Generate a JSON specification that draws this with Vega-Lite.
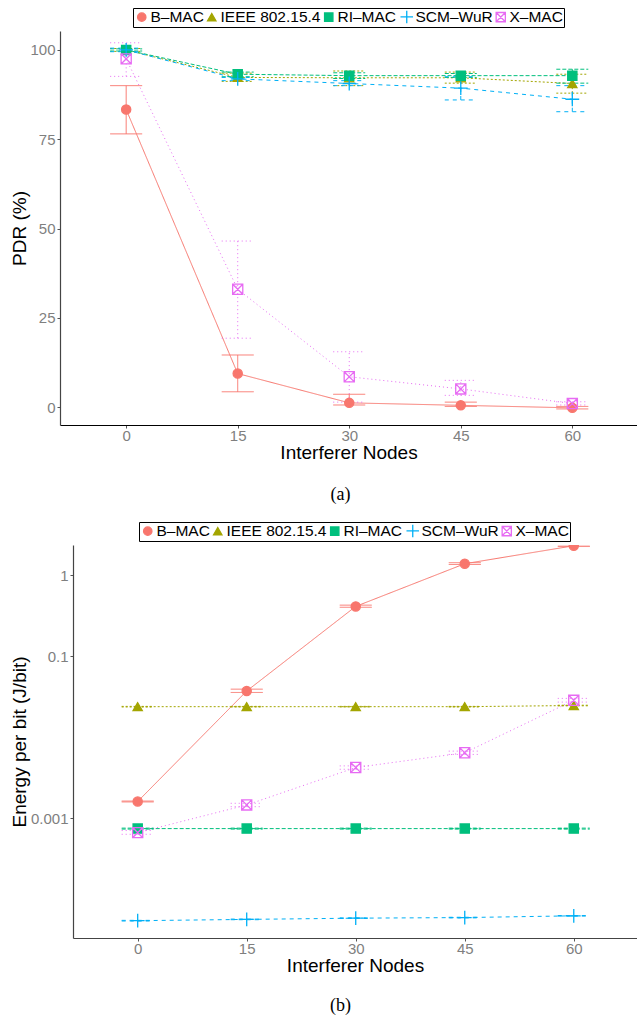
{
  "$schema": "https://vega.github.io/schema/vega-lite/v6.json",
  "padding": {"left": 10, "top": 7, "right": 0, "bottom": 0},
  "background": "white",
  "config": {
    "view": {"stroke": null},
    "font": "Liberation Sans",
    "axis": {"grid": false, "labelColor": "#7f7f7f", "labelFontSize": 15, "labelFont": "Liberation Sans", "titleFont": "Liberation Sans", "titleFontSize": 19, "titleFontWeight": "normal", "titleColor": "black", "tickColor": "#555", "tickSize": 3, "labelPadding": 2, "domainColor": "#444", "domainWidth": 1.2},
    "axisX": {"labelPadding": 0, "titlePadding": 0},
    "title": {"font": "Liberation Serif", "fontSize": 18, "fontWeight": "normal", "color": "black"}
  },
  "datasets": {
    "pdr": [
      {"mac": "B–MAC", "n": 0, "v": 83.3, "lo": 76.5, "hi": 90.0},
      {"mac": "B–MAC", "n": 15, "v": 9.4, "lo": 4.3, "hi": 14.6},
      {"mac": "B–MAC", "n": 30, "v": 1.2, "lo": 0.6, "hi": 3.6},
      {"mac": "B–MAC", "n": 45, "v": 0.5, "lo": 0.2, "hi": 1.4},
      {"mac": "B–MAC", "n": 60, "v": -0.2, "lo": -0.5, "hi": 0.2},
      {"mac": "IEEE 802.15.4", "n": 0, "v": 100, "lo": 99.6, "hi": 100.4},
      {"mac": "IEEE 802.15.4", "n": 15, "v": 92.3, "lo": 91.2, "hi": 93.5},
      {"mac": "IEEE 802.15.4", "n": 30, "v": 92.2, "lo": 90.0, "hi": 94.1},
      {"mac": "IEEE 802.15.4", "n": 45, "v": 92.2, "lo": 90.7, "hi": 93.8},
      {"mac": "IEEE 802.15.4", "n": 60, "v": 90.6, "lo": 87.9, "hi": 93.2},
      {"mac": "RI–MAC", "n": 0, "v": 100, "lo": 99.7, "hi": 100.3},
      {"mac": "RI–MAC", "n": 15, "v": 93.2, "lo": 92.5, "hi": 93.8},
      {"mac": "RI–MAC", "n": 30, "v": 92.8, "lo": 92.0, "hi": 93.6},
      {"mac": "RI–MAC", "n": 45, "v": 92.8, "lo": 92.3, "hi": 93.4},
      {"mac": "RI–MAC", "n": 60, "v": 92.8, "lo": 90.7, "hi": 94.6},
      {"mac": "SCM–WuR", "n": 0, "v": 100, "lo": 99.5, "hi": 100.5},
      {"mac": "SCM–WuR", "n": 15, "v": 91.9, "lo": 91.4, "hi": 92.3},
      {"mac": "SCM–WuR", "n": 30, "v": 90.6, "lo": 90.0, "hi": 91.4},
      {"mac": "SCM–WuR", "n": 45, "v": 89.3, "lo": 86.0, "hi": 92.5},
      {"mac": "SCM–WuR", "n": 60, "v": 86.2, "lo": 82.7, "hi": 90.0},
      {"mac": "X–MAC", "n": 0, "v": 97.5, "lo": 92.6, "hi": 102.0},
      {"mac": "X–MAC", "n": 15, "v": 33.0, "lo": 19.3, "hi": 46.5},
      {"mac": "X–MAC", "n": 30, "v": 8.5, "lo": 1.4, "hi": 15.5},
      {"mac": "X–MAC", "n": 45, "v": 5.1, "lo": 3.3, "hi": 7.5},
      {"mac": "X–MAC", "n": 60, "v": 1.0, "lo": 0.6, "hi": 1.5}
    ],
    "energy": [
      {"mac": "B–MAC", "n": 0, "v": 0.0016, "lo": 0.00158, "hi": 0.00162},
      {"mac": "B–MAC", "n": 15, "v": 0.037, "lo": 0.0355, "hi": 0.039},
      {"mac": "B–MAC", "n": 30, "v": 0.41, "lo": 0.40, "hi": 0.425},
      {"mac": "B–MAC", "n": 45, "v": 1.38, "lo": 1.35, "hi": 1.42},
      {"mac": "B–MAC", "n": 60, "v": 2.3, "lo": 2.25, "hi": 2.36},
      {"mac": "IEEE 802.15.4", "n": 0, "v": 0.0237, "lo": 0.0235, "hi": 0.0239},
      {"mac": "IEEE 802.15.4", "n": 15, "v": 0.0237, "lo": 0.0235, "hi": 0.0239},
      {"mac": "IEEE 802.15.4", "n": 30, "v": 0.0237, "lo": 0.0235, "hi": 0.0239},
      {"mac": "IEEE 802.15.4", "n": 45, "v": 0.0237, "lo": 0.0235, "hi": 0.0239},
      {"mac": "IEEE 802.15.4", "n": 60, "v": 0.0245, "lo": 0.0243, "hi": 0.0247},
      {"mac": "RI–MAC", "n": 0, "v": 0.00074, "lo": 0.00073, "hi": 0.00075},
      {"mac": "RI–MAC", "n": 15, "v": 0.00074, "lo": 0.00073, "hi": 0.00075},
      {"mac": "RI–MAC", "n": 30, "v": 0.00074, "lo": 0.00073, "hi": 0.00075},
      {"mac": "RI–MAC", "n": 45, "v": 0.00074, "lo": 0.00073, "hi": 0.00075},
      {"mac": "RI–MAC", "n": 60, "v": 0.00074, "lo": 0.00073, "hi": 0.00075},
      {"mac": "SCM–WuR", "n": 0, "v": 0.000054, "lo": 0.0000535, "hi": 0.0000545},
      {"mac": "SCM–WuR", "n": 15, "v": 0.000056, "lo": 0.0000555, "hi": 0.0000565},
      {"mac": "SCM–WuR", "n": 30, "v": 0.000058, "lo": 0.0000575, "hi": 0.0000585},
      {"mac": "SCM–WuR", "n": 45, "v": 0.000059, "lo": 0.0000585, "hi": 0.0000595},
      {"mac": "SCM–WuR", "n": 60, "v": 0.000062, "lo": 0.0000615, "hi": 0.0000625},
      {"mac": "X–MAC", "n": 0, "v": 0.00066, "lo": 0.00063, "hi": 0.0007},
      {"mac": "X–MAC", "n": 15, "v": 0.00145, "lo": 0.00138, "hi": 0.00152},
      {"mac": "X–MAC", "n": 30, "v": 0.0042, "lo": 0.004, "hi": 0.0044},
      {"mac": "X–MAC", "n": 45, "v": 0.0064, "lo": 0.0061, "hi": 0.0067},
      {"mac": "X–MAC", "n": 60, "v": 0.0284, "lo": 0.027, "hi": 0.03}
    ]
  },
  "columns": 1,
  "spacing": 17,
  "resolve": {
    "scale": {"stroke": "independent", "fill": "independent", "shape": "independent", "color": "independent", "strokeDash": "independent"},
    "legend": {"stroke": "independent", "fill": "independent", "shape": "independent", "color": "independent", "strokeDash": "independent"}
  },
  "concat": [
    {
      "width": 577,
      "height": 394,
      "data": {"name": "pdr"},
      "title": {"text": "(a)", "orient": "bottom", "offset": 24, "dx": -8},
      "encoding": {
        "x": {"field": "n", "type": "quantitative", "scale": {"domain": [-8.9, 68.7], "nice": false, "zero": false}, "axis": {"values": [0, 15, 30, 45, 60], "title": "Interferer Nodes", "domainColor": "black"}}
      },
      "layer": [
        {
          "mark": {"type": "line", "strokeWidth": 1},
          "encoding": {
            "y": {"field": "v", "type": "quantitative", "scale": {"domain": [-5, 105.3], "nice": false, "zero": false}, "axis": {"values": [0, 25, 50, 75, 100], "title": "PDR (%)", "titlePadding": 0}},
            "color": {"field": "mac", "type": "nominal", "scale": {"range": ["#F8766D", "#A3A500", "#00BF7D", "#00B0F6", "#E76BF3"]}, "legend": null},
            "strokeDash": {"field": "mac", "type": "nominal", "scale": {"range": [[1, 0], [2, 2], [4, 2], [4, 4], [1, 3]]}, "legend": null}
          }
        },
        {
          "mark": {"type": "rule", "strokeWidth": 1},
          "encoding": {
            "y": {"field": "lo", "type": "quantitative"},
            "y2": {"field": "hi"},
            "color": {"field": "mac", "type": "nominal", "legend": null},
            "strokeDash": {"field": "mac", "type": "nominal", "legend": null}
          }
        },
        {
          "mark": {"type": "rule", "strokeWidth": 1, "xOffset": -16, "x2Offset": 16},
          "encoding": {
            "x2": {"field": "n"},
            "y": {"field": "lo", "type": "quantitative"},
            "color": {"field": "mac", "type": "nominal", "legend": null},
            "strokeDash": {"field": "mac", "type": "nominal", "legend": null}
          }
        },
        {
          "mark": {"type": "rule", "strokeWidth": 1, "xOffset": -16, "x2Offset": 16},
          "encoding": {
            "x2": {"field": "n"},
            "y": {"field": "hi", "type": "quantitative"},
            "color": {"field": "mac", "type": "nominal", "legend": null},
            "strokeDash": {"field": "mac", "type": "nominal", "legend": null}
          }
        },
        {
          "mark": {"type": "point", "size": 85, "strokeWidth": 1.3, "opacity": 1},
          "encoding": {
            "y": {"field": "v", "type": "quantitative"},
            "stroke": {"field": "mac", "type": "nominal", "scale": {"domain": ["B–MAC", "IEEE 802.15.4", "RI–MAC", "SCM–WuR", "X–MAC"], "range": ["#F8766D", "#A3A500", "#00BF7D", "#00B0F6", "#E76BF3"]}, "legend": {"title": null, "orient": "none", "legendX": 73, "legendY": -23, "direction": "horizontal", "columns": 5, "strokeColor": "black", "padding": 1, "labelFontSize": 15.5, "labelColor": "black", "labelFont": "Liberation Sans", "symbolSize": 70, "symbolStrokeWidth": 1.3, "symbolOpacity": 1, "columnPadding": 0, "labelOffset": 1}},
            "fill": {"field": "mac", "type": "nominal", "scale": {"domain": ["B–MAC", "IEEE 802.15.4", "RI–MAC", "SCM–WuR", "X–MAC"], "range": ["#F8766D", "#A3A500", "#00BF7D", "transparent", "transparent"]}, "legend": {"title": null, "orient": "none", "legendX": 73, "legendY": -23, "direction": "horizontal", "columns": 5, "strokeColor": "black", "padding": 1, "labelFontSize": 15.5, "labelColor": "black", "labelFont": "Liberation Sans", "symbolSize": 70, "symbolStrokeWidth": 1.3, "symbolOpacity": 1, "columnPadding": 0, "labelOffset": 1}},
            "shape": {"field": "mac", "type": "nominal", "scale": {"domain": ["B–MAC", "IEEE 802.15.4", "RI–MAC", "SCM–WuR", "X–MAC"], "range": ["circle", "triangle-up", "square", "M-1.5,0L1.5,0M0,-1.5L0,1.5", "M-1.1,-1.1L1.1,-1.1L1.1,1.1L-1.1,1.1Z M-1.1,-1.1L1.1,1.1 M1.1,-1.1L-1.1,1.1"]}, "legend": {"title": null, "orient": "none", "legendX": 73, "legendY": -23, "direction": "horizontal", "columns": 5, "strokeColor": "black", "padding": 1, "labelFontSize": 15.5, "labelColor": "black", "labelFont": "Liberation Sans", "symbolSize": 70, "symbolStrokeWidth": 1.3, "symbolOpacity": 1, "columnPadding": 0, "labelOffset": 1}}
          }
        }
      ]
    },
    {
      "width": 577,
      "height": 393,
      "data": {"name": "energy"},
      "title": {"text": "(b)", "orient": "bottom", "offset": 22, "dx": -8},
      "encoding": {
        "x": {"field": "n", "type": "quantitative", "scale": {"domain": [-8.9, 68.7], "range": [13, 577], "nice": false, "zero": false}, "axis": {"values": [0, 15, 30, 45, 60], "title": "Interferer Nodes"}}
      },
      "layer": [
        {
          "mark": {"type": "line", "strokeWidth": 1, "clip": true},
          "encoding": {
            "y": {"field": "v", "type": "quantitative", "scale": {"type": "log", "domain": [0.000033, 2.35], "nice": false, "zero": false}, "axis": {"values": [0.001, 0.1, 1], "format": "~g", "title": "Energy per bit (J/bit)", "titlePadding": 1, "offset": -13}},
            "color": {"field": "mac", "type": "nominal", "scale": {"range": ["#F8766D", "#A3A500", "#00BF7D", "#00B0F6", "#E76BF3"]}, "legend": null},
            "strokeDash": {"field": "mac", "type": "nominal", "scale": {"range": [[1, 0], [2, 2], [4, 2], [4, 4], [1, 3]]}, "legend": null}
          }
        },
        {
          "mark": {"type": "rule", "strokeWidth": 1, "clip": true},
          "encoding": {
            "y": {"field": "lo", "type": "quantitative"},
            "y2": {"field": "hi"},
            "color": {"field": "mac", "type": "nominal", "legend": null},
            "strokeDash": {"field": "mac", "type": "nominal", "legend": null}
          }
        },
        {
          "mark": {"type": "rule", "strokeWidth": 1, "xOffset": -16, "x2Offset": 16, "clip": true},
          "encoding": {
            "x2": {"field": "n"},
            "y": {"field": "lo", "type": "quantitative"},
            "color": {"field": "mac", "type": "nominal", "legend": null},
            "strokeDash": {"field": "mac", "type": "nominal", "legend": null}
          }
        },
        {
          "mark": {"type": "rule", "strokeWidth": 1, "xOffset": -16, "x2Offset": 16, "clip": true},
          "encoding": {
            "x2": {"field": "n"},
            "y": {"field": "hi", "type": "quantitative"},
            "color": {"field": "mac", "type": "nominal", "legend": null},
            "strokeDash": {"field": "mac", "type": "nominal", "legend": null}
          }
        },
        {
          "mark": {"type": "point", "size": 85, "strokeWidth": 1.3, "opacity": 1, "clip": true},
          "encoding": {
            "y": {"field": "v", "type": "quantitative"},
            "stroke": {"field": "mac", "type": "nominal", "scale": {"domain": ["B–MAC", "IEEE 802.15.4", "RI–MAC", "SCM–WuR", "X–MAC"], "range": ["#F8766D", "#A3A500", "#00BF7D", "#00B0F6", "#E76BF3"]}, "legend": {"title": null, "orient": "none", "legendX": 79, "legendY": -23, "direction": "horizontal", "columns": 5, "strokeColor": "black", "padding": 1, "labelFontSize": 15.5, "labelColor": "black", "labelFont": "Liberation Sans", "symbolSize": 70, "symbolStrokeWidth": 1.3, "symbolOpacity": 1, "columnPadding": 0, "labelOffset": 1}},
            "fill": {"field": "mac", "type": "nominal", "scale": {"domain": ["B–MAC", "IEEE 802.15.4", "RI–MAC", "SCM–WuR", "X–MAC"], "range": ["#F8766D", "#A3A500", "#00BF7D", "transparent", "transparent"]}, "legend": {"title": null, "orient": "none", "legendX": 79, "legendY": -23, "direction": "horizontal", "columns": 5, "strokeColor": "black", "padding": 1, "labelFontSize": 15.5, "labelColor": "black", "labelFont": "Liberation Sans", "symbolSize": 70, "symbolStrokeWidth": 1.3, "symbolOpacity": 1, "columnPadding": 0, "labelOffset": 1}},
            "shape": {"field": "mac", "type": "nominal", "scale": {"domain": ["B–MAC", "IEEE 802.15.4", "RI–MAC", "SCM–WuR", "X–MAC"], "range": ["circle", "triangle-up", "square", "M-1.5,0L1.5,0M0,-1.5L0,1.5", "M-1.1,-1.1L1.1,-1.1L1.1,1.1L-1.1,1.1Z M-1.1,-1.1L1.1,1.1 M1.1,-1.1L-1.1,1.1"]}, "legend": {"title": null, "orient": "none", "legendX": 79, "legendY": -23, "direction": "horizontal", "columns": 5, "strokeColor": "black", "padding": 1, "labelFontSize": 15.5, "labelColor": "black", "labelFont": "Liberation Sans", "symbolSize": 70, "symbolStrokeWidth": 1.3, "symbolOpacity": 1, "columnPadding": 0, "labelOffset": 1}}
          }
        }
      ]
    }
  ]
}
